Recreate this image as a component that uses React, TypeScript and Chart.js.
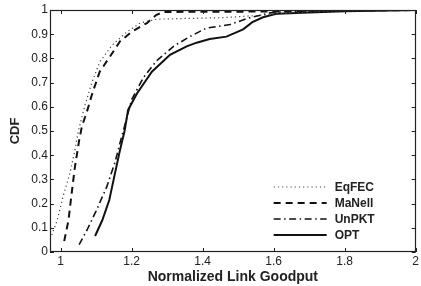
import React, { useEffect, useRef } from "react";
import { Chart, registerables } from "chart.js";

Chart.register(...registerables);

const seriesNames = ["EqFEC", "MaNell", "UnPKT", "OPT"];

const eqfecX = [0.975, 0.99, 1.007, 1.027, 1.04, 1.05, 1.069, 1.088, 1.11, 1.145, 1.187, 1.224, 1.27, 1.35, 1.45, 1.55, 1.65, 1.75, 2.0];
const eqfecY = [0.07, 0.13, 0.23, 0.33, 0.42, 0.5, 0.61, 0.7, 0.785, 0.855, 0.91, 0.946, 0.962, 0.965, 0.968, 0.977, 0.988, 0.995, 1.0];

const manellX = [1.01, 1.022, 1.03, 1.04, 1.052, 1.06, 1.074, 1.088, 1.11, 1.14, 1.167, 1.2, 1.243, 1.27, 1.29, 1.5, 1.7, 2.0];
const manellY = [0.045, 0.13, 0.23, 0.35, 0.46, 0.52, 0.58, 0.65, 0.745, 0.81, 0.87, 0.91, 0.946, 0.98, 0.992, 0.993, 0.995, 1.0];

const unpktX = [1.052, 1.074, 1.1, 1.13, 1.153, 1.167, 1.18, 1.2, 1.233, 1.27, 1.318, 1.364, 1.41, 1.477, 1.53, 1.59, 1.65, 2.0];
const unpktY = [0.03, 0.09, 0.17, 0.27, 0.37, 0.45, 0.52, 0.63, 0.72, 0.79, 0.85, 0.89, 0.925, 0.94, 0.967, 0.988, 0.995, 1.0];

const optX = [1.097, 1.117, 1.137, 1.153, 1.167, 1.18, 1.19, 1.215, 1.257, 1.308, 1.355, 1.383, 1.42, 1.467, 1.514, 1.54, 1.57, 1.61, 1.7, 1.8, 2.0];
const optY = [0.066, 0.13, 0.215, 0.325, 0.42, 0.5, 0.587, 0.655, 0.745, 0.815, 0.85, 0.865, 0.88, 0.89, 0.92, 0.95, 0.97, 0.985, 0.99, 0.995, 1.0];

const xTickValues = [1, 1.2, 1.4, 1.6, 1.8, 2];
const xTickLabels = ["1", "1.2", "1.4", "1.6", "1.8", "2"];
const yTickValues = [0, 0.1, 0.2, 0.3, 0.4, 0.5, 0.6, 0.7, 0.8, 0.9, 1];
const yTickLabels = ["0", "0.1", "0.2", "0.3", "0.4", "0.5", "0.6", "0.7", "0.8", "0.9", "1"];

const FONT = "'Liberation Sans', Arial, Helvetica, sans-serif";
const TEXT = "#222";

const styles = [
  { color: "#444", width: 1.2, dash: [1.2, 3] },
  { color: "#111", width: 2, dash: [7, 5] },
  { color: "#111", width: 1.6, dash: [7, 3.5, 1.5, 3.5] },
  { color: "#111", width: 2, dash: [] as number[] },
];

const toPoints = (xs: number[], ys: number[]) => xs.map((x, i) => ({ x, y: ys[i] }));

const frameAndLegend = {
  id: "frameAndLegend",
  afterDatasetsDraw(chart: any) {
    const { ctx, chartArea, scales } = chart;
    const { left, right, top, bottom } = chartArea;
    ctx.save();
    ctx.strokeStyle = "#222";
    ctx.lineWidth = 1;
    ctx.setLineDash([]);
    const tl = 4;
    ctx.beginPath();
    xTickValues.forEach((v) => {
      const px = Math.round(scales.x.getPixelForValue(v)) + 0.5;
      ctx.moveTo(px, bottom);
      ctx.lineTo(px, bottom - tl);
      ctx.moveTo(px, top);
      ctx.lineTo(px, top + tl);
    });
    yTickValues.forEach((v) => {
      const py = Math.round(scales.y.getPixelForValue(v)) + 0.5;
      ctx.moveTo(left, py);
      ctx.lineTo(left + tl, py);
      ctx.moveTo(right, py);
      ctx.lineTo(right - tl, py);
    });
    ctx.stroke();
    ctx.lineWidth = 1.2;
    ctx.strokeRect(Math.round(left) + 0.5, Math.round(top) + 0.5, Math.round(right - left) - 1, Math.round(bottom - top) - 1);

    const x0 = right - 142;
    const x1 = right - 89;
    const tx = right - 81;
    const rows = [bottom - 65, bottom - 49, bottom - 33, bottom - 17];
    seriesNames.forEach((name, i) => {
      const s = styles[i];
      ctx.beginPath();
      ctx.strokeStyle = s.color;
      ctx.lineWidth = s.width;
      ctx.setLineDash(s.dash);
      ctx.moveTo(x0, rows[i]);
      ctx.lineTo(x1, rows[i]);
      ctx.stroke();
      ctx.setLineDash([]);
      ctx.fillStyle = TEXT;
      ctx.font = `bold 12px ${FONT}`;
      ctx.textBaseline = "middle";
      ctx.textAlign = "left";
      ctx.fillText(name, tx, rows[i] + 0.5);
    });
    ctx.restore();
  },
};

export default function App() {
  const canvasRef = useRef<HTMLCanvasElement | null>(null);

  useEffect(() => {
    if (!canvasRef.current) return;
    const series = [
      toPoints(eqfecX, eqfecY),
      toPoints(manellX, manellY),
      toPoints(unpktX, unpktY),
      toPoints(optX, optY),
    ];
    const chart = new Chart(canvasRef.current, {
      type: "line",
      data: {
        datasets: series.map((data, i) => ({
          label: seriesNames[i],
          data,
          borderColor: styles[i].color,
          borderWidth: styles[i].width,
          borderDash: styles[i].dash,
          pointRadius: 0,
          fill: false,
          tension: 0,
        })),
      },
      options: {
        animation: false,
        responsive: false,
        layout: { padding: { top: 10, right: 5, left: 0, bottom: 0 } },
        plugins: { legend: { display: false }, tooltip: { enabled: false } },
        scales: {
          x: {
            type: "linear",
            min: 0.97,
            max: 2,
            grid: { display: false, drawTicks: false },
            border: { display: false },
            afterBuildTicks: (scale: any) => {
              scale.ticks = xTickValues.map((v) => ({ value: v }));
            },
            afterFit: (scale: any) => {
              scale.height = 34;
            },
            ticks: {
              padding: 2,
              color: TEXT,
              font: { family: FONT, size: 12 },
              maxRotation: 0,
              autoSkip: false,
              callback: (v: any) => {
                const idx = xTickValues.findIndex((t) => Math.abs(t - Number(v)) < 1e-6);
                return idx >= 0 ? xTickLabels[idx] : "";
              },
            },
            title: {
              display: true,
              text: "Normalized Link Goodput",
              color: TEXT,
              font: { family: FONT, size: 14, weight: "bold" },
              padding: { top: 0, bottom: 0.5 },
            },
          },
          y: {
            type: "linear",
            min: 0,
            max: 1,
            grid: { display: false, drawTicks: false },
            border: { display: false },
            afterBuildTicks: (scale: any) => {
              scale.ticks = yTickValues.map((v) => ({ value: v }));
            },
            afterFit: (scale: any) => {
              scale.width = 50;
            },
            ticks: {
              padding: 2,
              color: TEXT,
              font: { family: FONT, size: 12 },
              autoSkip: false,
              callback: (v: any) => {
                const idx = yTickValues.findIndex((t) => Math.abs(t - Number(v)) < 1e-6);
                return idx >= 0 ? yTickLabels[idx] : "";
              },
            },
            title: {
              display: true,
              text: "CDF",
              color: TEXT,
              font: { family: FONT, size: 13, weight: "bold" },
              padding: { top: 8, bottom: 0 },
            },
          },
        },
      },
      plugins: [frameAndLegend],
    } as any);
    return () => chart.destroy();
  }, []);

  return (
    <div style={{ position: "fixed", left: 0, top: 0, width: 421, height: 286, background: "#fff" }}>
      <canvas ref={canvasRef} width={421} height={286} style={{ display: "block" }} />
    </div>
  );
}
